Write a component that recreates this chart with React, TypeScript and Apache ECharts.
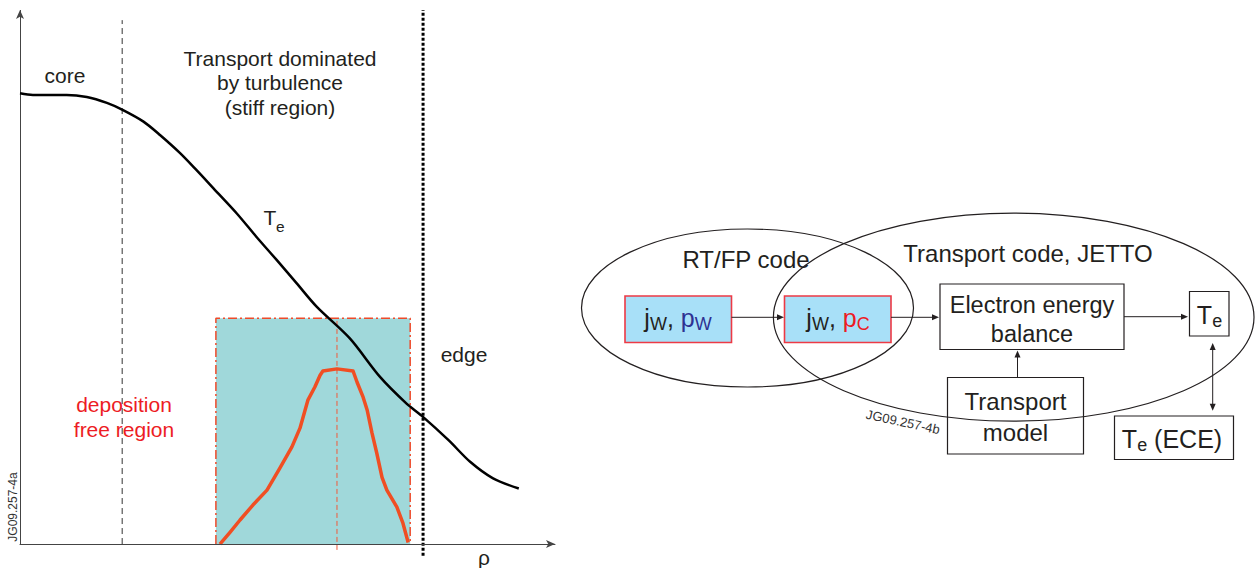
import React, { useEffect, useRef } from "react";
import * as echarts from "echarts";

// ---- Data (arbitrary units) ----
const rhoTe = [0, 0.032, 0.116, 0.166, 0.216, 0.255, 0.307, 0.348, 0.398, 0.439, 0.481, 0.539, 0.588, 0.638, 0.688, 0.738, 0.82, 0.895, 0.961, 0.999, 1.066, 1.119, 1.176, 1.24];
const teValues = [8.44, 8.41, 8.41, 8.37, 8.26, 8.13, 7.91, 7.66, 7.32, 7.0, 6.66, 6.19, 5.75, 5.32, 4.88, 4.44, 3.85, 3.13, 2.63, 2.4, 1.94, 1.54, 1.23, 1.04];

const rhoPc = [0.497, 0.522, 0.547, 0.579, 0.614, 0.646, 0.676, 0.696, 0.716, 0.733, 0.746, 0.753, 0.788, 0.828, 0.838, 0.853, 0.863, 0.875, 0.887, 0.9, 0.912, 0.937, 0.952, 0.965];
const pcValues = [0, 0.22, 0.45, 0.73, 1.01, 1.42, 1.82, 2.17, 2.7, 2.94, 3.16, 3.24, 3.28, 3.24, 3.03, 2.75, 2.51, 2.08, 1.7, 1.25, 1.01, 0.69, 0.39, 0.03];

const coreBoundaryRho = [0.254];
const edgeRho = [1.002];
const windowRho = [0.487, 0.788, 0.97]; // left, centre, right of deposition window
const windowTop = [4.23];
const axisRange = [0, 1.33];
const valueRange = [-0.4, 10];

const leftLabels = ["core", "Transport dominated", "by turbulence", "(stiff region)", "edge", "deposition", "free region"];
const rightLabels = ["RT/FP code", "Transport code, JETTO", "Electron energy", "balance", "Transport", "model"];

const FONT = "'Liberation Sans', Arial, Helvetica, sans-serif";
const INK = "#231f20";

function arrow(x1: number, y1: number, x2: number, y2: number, both = false) {
  const els: any[] = [];
  const L = 7, W = 3;
  const a = Math.atan2(y2 - y1, x2 - x1);
  const c = Math.cos(a), s = Math.sin(a);
  const sx = both ? x1 + (L - 1) * c : x1;
  const sy = both ? y1 + (L - 1) * s : y1;
  els.push({ type: "line", shape: { x1: sx, y1: sy, x2: x2 - (L - 1) * c, y2: y2 - (L - 1) * s }, style: { stroke: INK, lineWidth: 1 } });
  const head = (tx: number, ty: number, dc: number, ds: number) => ({
    type: "polygon",
    shape: { points: [[tx, ty], [tx - L * dc + W * ds, ty - L * ds - W * dc], [tx - L * dc - W * ds, ty - L * ds + W * dc]] },
    style: { fill: INK },
  });
  els.push(head(x2, y2, c, s));
  if (both) els.push(head(x1, y1, -c, -s));
  return els;
}

function txt(x: number, y: number, text: string, size: number, fill = INK, align = "center", extra: any = {}) {
  return { type: "text", x, y, ...extra, style: { text, fontSize: size, fontFamily: FONT, fill, align, verticalAlign: "middle" } };
}

function richTxt(x: number, y: number, text: string, rich: any) {
  return { type: "text", x, y, style: { text, fontFamily: FONT, align: "center", verticalAlign: "middle", rich } };
}

const mainTok = (fill: string) => ({ fontSize: 25, fontFamily: FONT, fill, lineHeight: 30, verticalAlign: "middle" });
const subTok = (fill: string) => ({ fontSize: 18, fontFamily: FONT, fill, lineHeight: 18, verticalAlign: "bottom" });

export default function App() {
  const ref = useRef<HTMLDivElement>(null);
  useEffect(() => {
    if (!ref.current) return;
    const chart = echarts.init(ref.current, null, { renderer: "svg" });

    const tePts = rhoTe.map((r, i) => [r, teValues[i]]);
    const pcPts = rhoPc.map((r, i) => [r, pcValues[i]]);
    const [wl, wc, wr] = windowRho;
    const wt = windowTop[0];

    const graphics: any[] = [
      // left chart annotations
      txt(65, 75.5, leftLabels[0], 21),
      txt(280, 58, leftLabels[1], 21),
      txt(280, 82.5, leftLabels[2], 21),
      txt(280, 107.5, leftLabels[3], 21),
      txt(464, 354, leftLabels[4], 21),
      txt(124, 404.5, leftLabels[5], 21, "#ed1c24"),
      txt(124, 429, leftLabels[6], 21, "#ed1c24"),
      txt(263.5, 217.5, "T", 21, INK, "left"),
      txt(276, 226, "e", 15.5, INK, "left"),
      txt(244, 407.5, "p", 21, "#e8363c", "left"),
      txt(255.5, 416.5, "c", 15, "#e8363c", "left"),
      txt(484, 557, "\u03c1", 21),
      txt(12.5, 507, "JG09.257-4a", 12, "#333", "center", { rotation: Math.PI / 2 }),

      // right diagram
      { type: "ellipse", shape: { cx: 747.5, cy: 308, rx: 166, ry: 79 }, style: { fill: "none", stroke: INK, lineWidth: 1.2 } },
      { type: "ellipse", shape: { cx: 1013.7, cy: 317.2, rx: 240.3, ry: 104 }, style: { fill: "none", stroke: INK, lineWidth: 1.2 } },
      { type: "rect", shape: { x: 625, y: 296, width: 106.5, height: 46.5 }, style: { fill: "#a8e0f8", stroke: "#ed3a45", lineWidth: 1.6 } },
      { type: "rect", shape: { x: 784.5, y: 296, width: 106.5, height: 46.5 }, style: { fill: "#a8e0f8", stroke: "#ed3a45", lineWidth: 1.6 } },
      { type: "rect", shape: { x: 940, y: 284, width: 184, height: 65.5 }, style: { fill: "none", stroke: INK, lineWidth: 1.2 } },
      { type: "rect", shape: { x: 1189.5, y: 291.5, width: 39.5, height: 44.5 }, style: { fill: "none", stroke: INK, lineWidth: 1.2 } },
      { type: "rect", shape: { x: 947.5, y: 377.5, width: 136, height: 76.5 }, style: { fill: "none", stroke: INK, lineWidth: 1.2 } },
      { type: "rect", shape: { x: 1114.5, y: 416, width: 119, height: 43.5 }, style: { fill: "none", stroke: INK, lineWidth: 1.2 } },
      ...arrow(731.5, 317.3, 784, 317.3),
      ...arrow(891, 317.3, 939, 317.3),
      ...arrow(1124, 316.7, 1188, 316.7),
      ...arrow(1017.5, 377, 1017.5, 350.5),
      ...arrow(1212.7, 343, 1212.7, 410.7, true),
      txt(746, 259.5, rightLabels[0], 24),
      txt(1028, 253.5, rightLabels[1], 24),
      txt(1032, 305, rightLabels[2], 23.5),
      txt(1032, 333.5, rightLabels[3], 23.5),
      txt(1015.5, 401.5, rightLabels[4], 24),
      txt(1015.5, 432, rightLabels[5], 24),
      richTxt(678, 318, "{a|j}{as|W}{a|, }{b|p}{bs|W}", { a: mainTok(INK), as: subTok(INK), b: mainTok("#2e3192"), bs: subTok("#2e3192") }),
      richTxt(838, 318, "{a|j}{as|W}{a|, }{b|p}{bs|C}", { a: mainTok(INK), as: subTok(INK), b: mainTok("#ed1c24"), bs: subTok("#ed1c24") }),
      richTxt(1209.5, 314.5, "{a|T}{as|e}", { a: mainTok(INK), as: subTok(INK) }),
      richTxt(1172, 439, "{a|T}{as|e}{a| (ECE)}", { a: mainTok(INK), as: subTok(INK) }),
      txt(903, 422, "JG09.257-4b", 13, "#333", "center", { rotation: -0.215 }),
    ];

    chart.setOption({
      animation: false,
      backgroundColor: "#ffffff",
      grid: { left: 20, top: 10, width: 535, height: 555.4 },
      xAxis: {
        type: "value",
        min: axisRange[0],
        max: axisRange[1],
        z: 10,
        axisLine: { show: true, onZero: true, symbol: ["none", "arrow"], symbolSize: [6, 9], lineStyle: { color: "#444", width: 1 } },
        axisTick: { show: false },
        axisLabel: { show: false },
        splitLine: { show: false },
      },
      yAxis: {
        type: "value",
        min: valueRange[0],
        max: valueRange[1],
        axisLine: { show: false },
        axisTick: { show: false },
        axisLabel: { show: false },
        splitLine: { show: false },
      },
      series: [
        {
          type: "line",
          z: 1,
          data: [],
          markArea: {
            silent: true,
            itemStyle: { color: "#a0d8da" },
            data: [[{ coord: [wl, 0] }, { coord: [wr, wt] }]],
          },
          markLine: {
            silent: true,
            symbol: ["none", "arrow"],
            symbolSize: [6, 9],
            label: { show: false },
            lineStyle: { color: "#444", width: 1, type: "solid" },
            data: [[{ coord: [0, 0] }, { coord: [0, valueRange[1]] }]],
          },
        },
        {
          type: "line",
          z: 3,
          showSymbol: false,
          data: [[coreBoundaryRho[0], 0], [coreBoundaryRho[0], 9.81]],
          lineStyle: { color: "#333", width: 1, type: [6, 4] },
        },
        {
          type: "line",
          z: 3,
          showSymbol: false,
          data: [[wc, -0.11], [wc, wt]],
          lineStyle: { color: "#f05a3a", width: 1, type: [5, 3] },
        },
        {
          type: "line",
          z: 4,
          showSymbol: false,
          data: [[wl, 0], [wl, wt], [wr, wt], [wr, 0]],
          lineStyle: { color: "#ee4a2a", width: 1.5, type: [9, 3, 2, 3] },
        },
        {
          type: "line",
          z: 5,
          showSymbol: false,
          data: [[edgeRho[0], -0.22], [edgeRho[0], valueRange[1]]],
          lineStyle: { color: "#000", width: 3, type: [3, 2] },
        },
        {
          type: "line",
          z: 6,
          showSymbol: false,
          smooth: 0.3,
          data: tePts,
          lineStyle: { color: "#000", width: 2.5 },
        },
        {
          type: "line",
          z: 7,
          showSymbol: false,
          data: pcPts,
          lineStyle: { color: "#f04e23", width: 3.5, join: "round" },
        },
      ],
      graphic: { elements: graphics },
    });
    return () => chart.dispose();
  }, []);
  return <div ref={ref} style={{ position: "fixed", left: 0, top: 0, width: 1257, height: 568 }} />;
}
